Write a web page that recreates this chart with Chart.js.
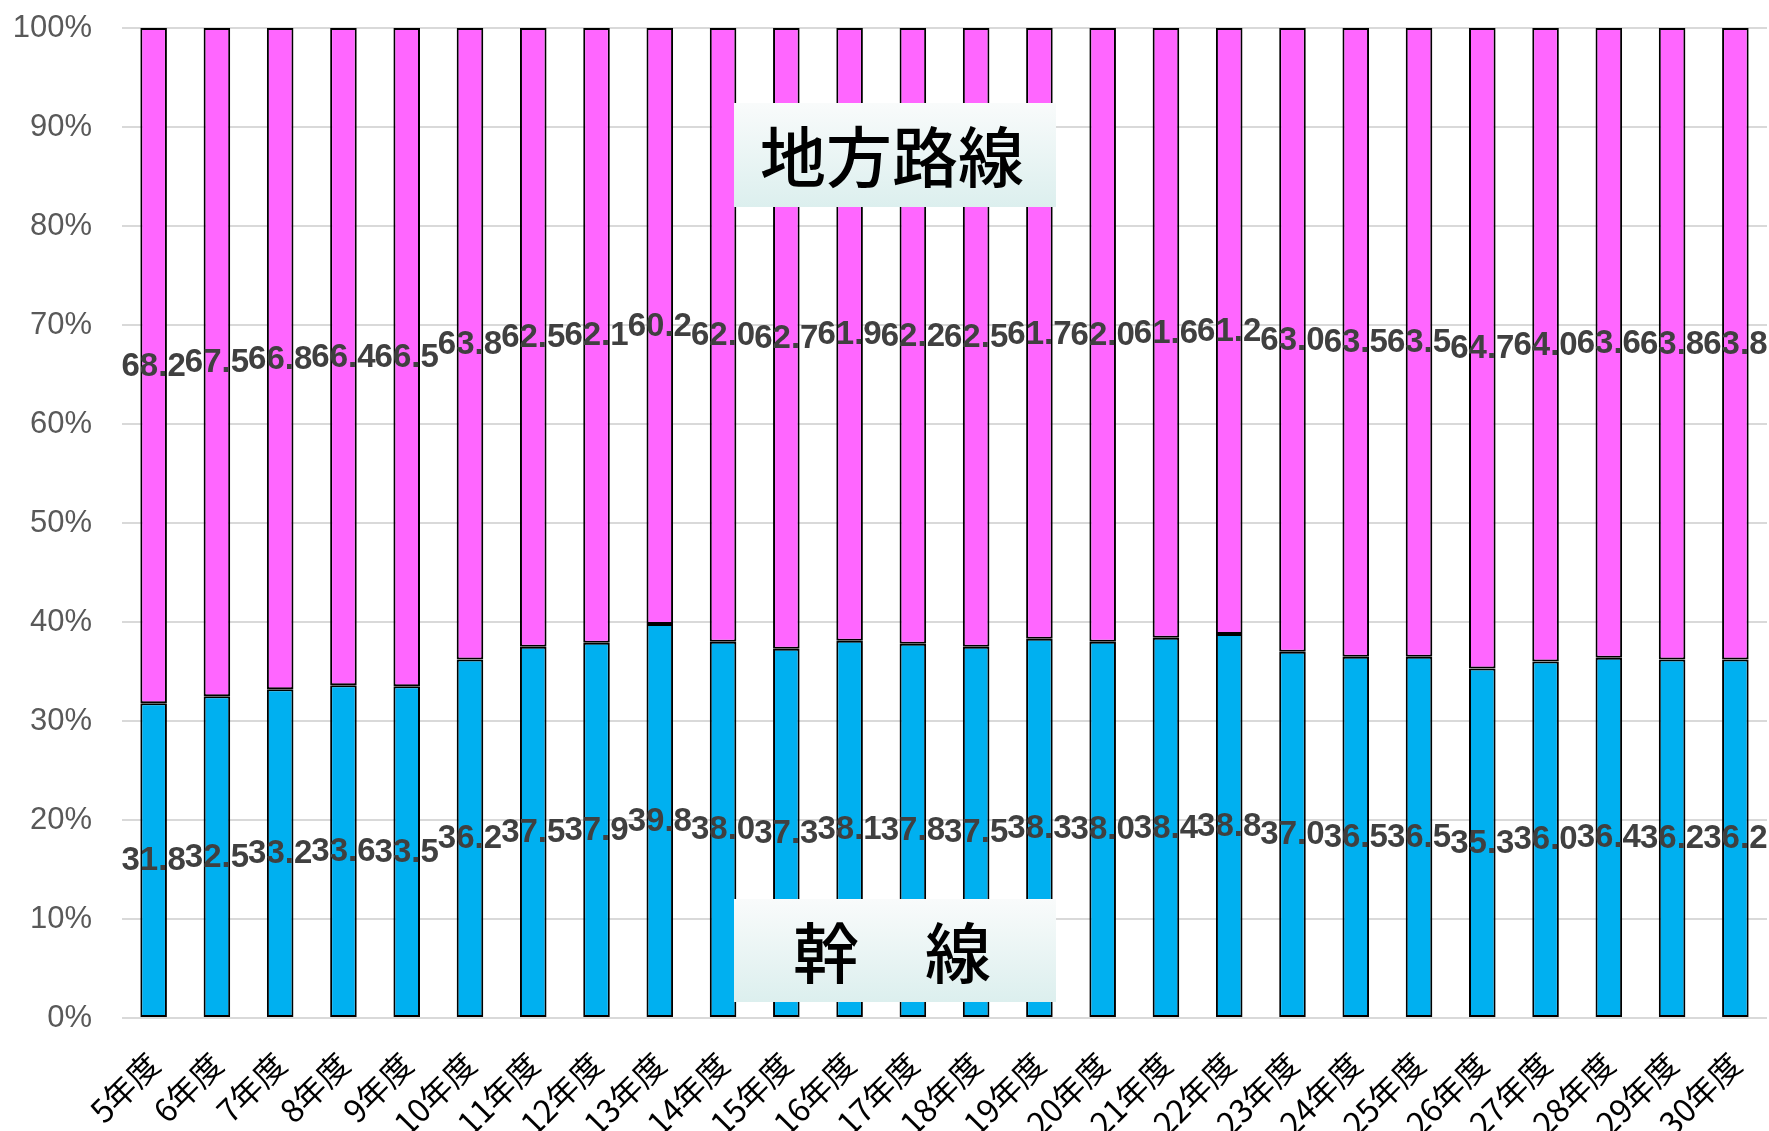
<!DOCTYPE html>
<html lang="ja">
<head>
<meta charset="utf-8">
<title>幹線・地方路線 割合</title>
<script src="https://cdn.jsdelivr.net/npm/chart.js@4.4.1/dist/chart.umd.min.js"></script>
<style>
  html, body { margin: 0; padding: 0; background: #fff; }
  canvas { display: block; }
</style>
</head>
<body>
<canvas id="chart" width="1769" height="1131"></canvas>
<script>
// 年度 (categories)
const years = [
  '5年度', '6年度', '7年度', '8年度', '9年度', '10年度', '11年度', '12年度', '13年度',
  '14年度', '15年度', '16年度', '17年度', '18年度', '19年度', '20年度', '21年度', '22年度',
  '23年度', '24年度', '25年度', '26年度', '27年度', '28年度', '29年度', '30年度'
];

// 幹線 share (%)
const trunkLine = [
  31.8, 32.5, 33.2, 33.6, 33.5, 36.2, 37.5, 37.9, 39.8,
  38.0, 37.3, 38.1, 37.8, 37.5, 38.3, 38.0, 38.4, 38.8,
  37.0, 36.5, 36.5, 35.3, 36.0, 36.4, 36.2, 36.2
];

// 地方路線 share (%)
const localLine = [
  68.2, 67.5, 66.8, 66.4, 66.5, 63.8, 62.5, 62.1, 60.2,
  62.0, 62.7, 61.9, 62.2, 62.5, 61.7, 62.0, 61.6, 61.2,
  63.0, 63.5, 63.5, 64.7, 64.0, 63.6, 63.8, 63.8
];

const yTicks = [0, 10, 20, 30, 40, 50, 60, 70, 80, 90, 100];

const BLUE = '#00B0F0';
const PINK = '#FF66FF';
const GRID = '#d9d9d9';

// value labels in the middle of each segment
const segmentLabels = {
  id: 'segmentLabels',
  afterDatasetsDraw(chart) {
    const ctx = chart.ctx;
    ctx.save();
    ctx.font = 'bold 33px "Liberation Sans", Arial, sans-serif';
    ctx.fillStyle = '#404040';
    ctx.textAlign = 'center';
    ctx.textBaseline = 'middle';
    chart.data.datasets.forEach((ds, di) => {
      const meta = chart.getDatasetMeta(di);
      meta.data.forEach((bar, i) => {
        const { x, y, base } = bar.getProps(['x', 'y', 'base'], true);
        ctx.fillText(ds.data[i].toFixed(1), x, (y + base) / 2 + 1);
      });
    });
    ctx.restore();
  }
};

// the two captions sitting on top of the bars
const captionBoxes = {
  id: 'captionBoxes',
  afterDraw(chart) {
    const ctx = chart.ctx;
    const boxes = [
      { text: '地方路線', x: 734, y: 103, w: 322, h: 104 },
      { text: '幹\u3000線', x: 734, y: 899, w: 322, h: 103 }
    ];
    ctx.save();
    boxes.forEach(b => {
      const g = ctx.createLinearGradient(0, b.y, 0, b.y + b.h);
      g.addColorStop(0, '#f9fbfb');
      g.addColorStop(1, '#dcefee');
      ctx.fillStyle = g;
      ctx.fillRect(b.x, b.y, b.w, b.h);
      ctx.fillStyle = '#000';
      ctx.font = '500 66px "Noto Sans CJK JP", sans-serif';
      ctx.textAlign = 'center';
      ctx.textBaseline = 'middle';
      ctx.fillText(b.text, b.x + b.w / 2 - 3, b.y + b.h / 2 + 2);
    });
    ctx.restore();
  }
};

new Chart(document.getElementById('chart'), {
  type: 'bar',
  data: {
    labels: years,
    datasets: [
      {
        label: '幹線',
        data: trunkLine,
        backgroundColor: BLUE,
        borderColor: '#000',
        borderWidth: 2,
        borderSkipped: false,
        barPercentage: 0.42,
        categoryPercentage: 1
      },
      {
        label: '地方路線',
        data: localLine,
        backgroundColor: PINK,
        borderColor: '#000',
        borderWidth: 2,
        borderSkipped: false,
        barPercentage: 0.42,
        categoryPercentage: 1
      }
    ]
  },
  options: {
    responsive: false,
    animation: false,
    layout: { padding: { top: 28, right: 2, left: 0, bottom: 0 } },
    plugins: {
      legend: { display: false },
      tooltip: { enabled: false }
    },
    scales: {
      x: {
        stacked: true,
        grid: { display: false, drawTicks: false },
        border: { display: false },
        ticks: {
          color: '#000',
          font: { family: '"Noto Sans CJK JP", sans-serif', size: 32 },
          minRotation: 45,
          maxRotation: 45,
          padding: 27,
          autoSkip: false
        },
        afterFit(scale) {
          scale.height = 113;
          scale.paddingLeft = 0;
          scale.paddingRight = 0;
        }
      },
      y: {
        stacked: true,
        min: 0,
        max: 100,
        afterBuildTicks(scale) { scale.ticks = yTicks.map(v => ({ value: v })); },
        grid: { color: GRID, lineWidth: 2, drawTicks: false },
        border: { display: false },
        ticks: {
          color: '#595959',
          font: { family: '"Liberation Sans", Arial, sans-serif', size: 31 },
          padding: 30,
          callback: v => v + '%'
        },
        afterFit(scale) {
          scale.width = 122;
          scale.paddingTop = 0;
        }
      }
    }
  },
  plugins: [segmentLabels, captionBoxes]
});
</script>
</body>
</html>
